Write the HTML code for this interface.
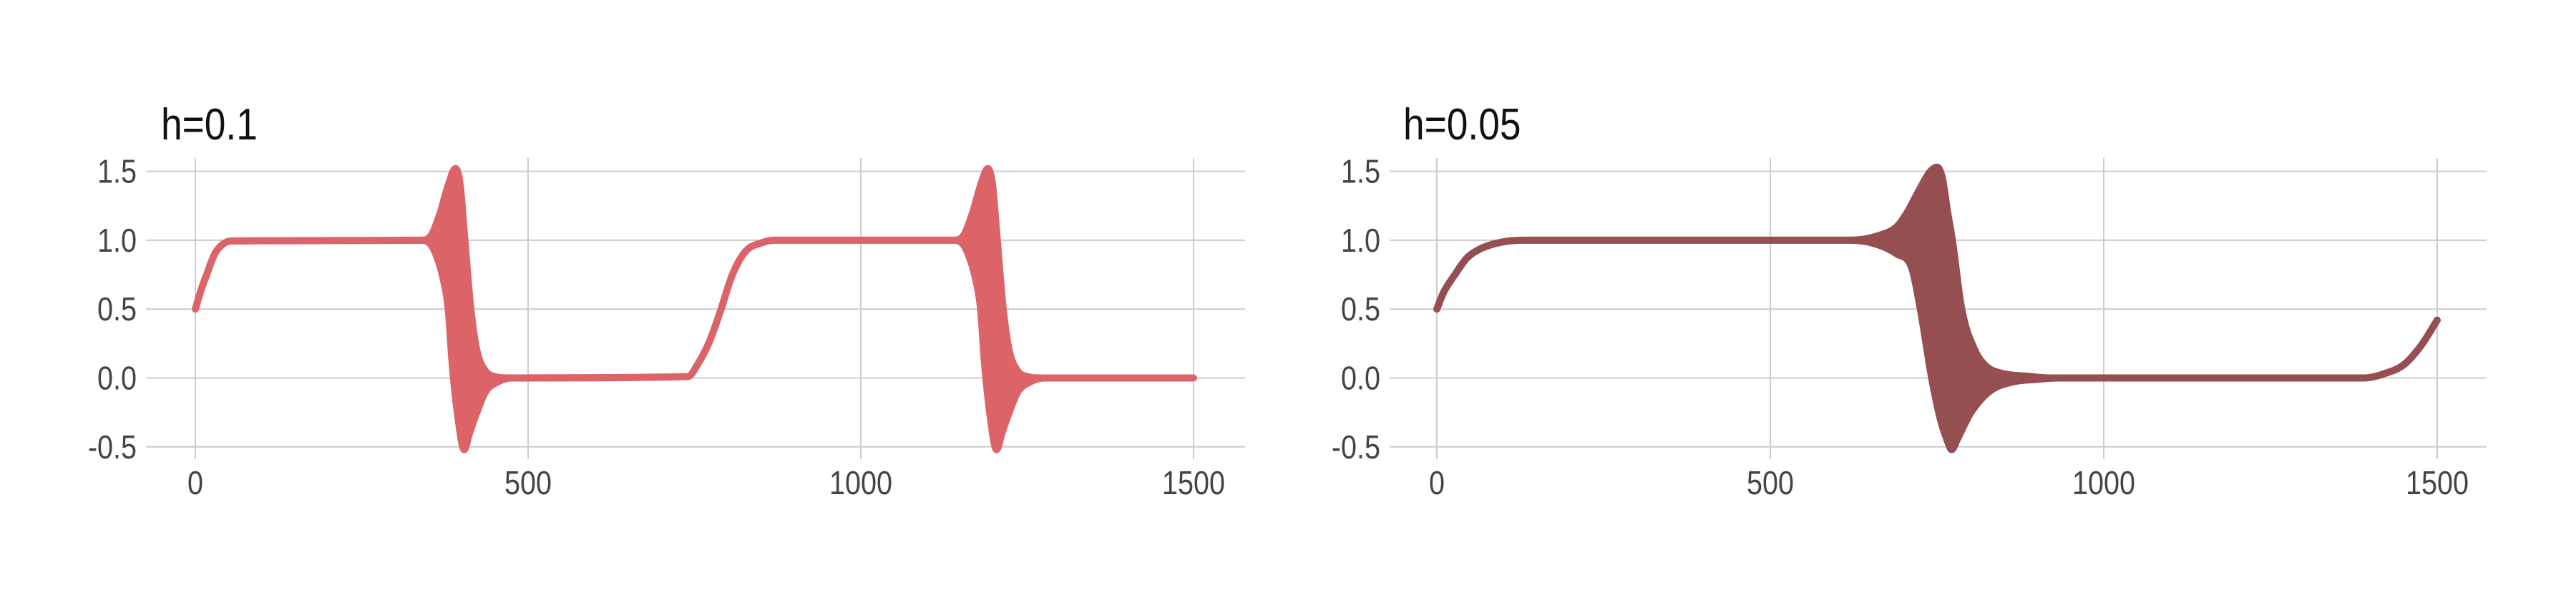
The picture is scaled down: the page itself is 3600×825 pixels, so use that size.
<!DOCTYPE html>
<html><head><meta charset="utf-8"><style>
html,body{margin:0;padding:0;background:#fff;}
svg{display:block;}
text{font-family:"Liberation Sans",sans-serif;}
</style></head><body>
<svg id="chart" width="3600" height="825" viewBox="0 0 3600 825" xmlns="http://www.w3.org/2000/svg"></svg>
<script>
const xTicks = [0, 500, 1000, 1500];
const yTicks = [-0.5, 0, 0.5, 1.0, 1.5];
const yTickLabels = ["-0.5", "0.0", "0.5", "1.0", "1.5"];
const titles = ["h=0.1", "h=0.05"];

const leftUpperX = [0,8,17,29,41,55,340,355,368,380,391,398,405,414,423,436,450,470,740,755,773,790,807,827,850,870,1140,1155,1168,1180,1191,1198,1205,1214,1223,1236,1250,1270,1500];
const leftUpperY = [0.5,0.63,0.75,0.9,0.97,0.995,1.0,1.04,1.2,1.4,1.52,1.4,1.0,0.5,0.2,0.05,0.01,0,0.01,0.1,0.27,0.5,0.75,0.92,0.98,1.0,1.0,1.04,1.2,1.4,1.52,1.4,1.0,0.5,0.2,0.05,0.01,0,0];
const leftLowerX = [0,8,17,29,41,55,340,355,365,371,380,386,395,404,412,423,436,454,475,740,755,773,790,807,827,850,870,1140,1155,1165,1171,1180,1186,1195,1204,1212,1223,1236,1254,1275,1500];
const leftLowerY = [0.5,0.63,0.75,0.9,0.97,0.995,1.0,0.96,0.85,0.75,0.5,0.1,-0.3,-0.52,-0.4,-0.25,-0.1,-0.03,0,0.01,0.1,0.27,0.5,0.75,0.92,0.98,1.0,1.0,0.96,0.85,0.75,0.5,0.1,-0.3,-0.52,-0.4,-0.25,-0.1,-0.03,0,0];

const rightUpperX = [0,10,27,45,62,96,130,620,660,690,705,725,740,750,758,766,773,787,807,825,842,890,920,1390,1420,1451,1478,1500];
const rightUpperY = [0.5,0.62,0.75,0.87,0.93,0.985,1.0,1.0,1.03,1.1,1.2,1.38,1.5,1.53,1.45,1.2,1.0,0.5,0.2,0.08,0.04,0.01,0,0,0.03,0.1,0.25,0.42];
const rightLowerX = [0,10,27,45,62,96,130,620,660,690,712,725,742,755,765,772,780,790,801,828,862,900,930,1390,1420,1451,1478,1500];
const rightLowerY = [0.5,0.62,0.75,0.87,0.93,0.985,1.0,1.0,0.97,0.9,0.8,0.5,0,-0.3,-0.45,-0.52,-0.45,-0.35,-0.25,-0.1,-0.03,-0.01,0,0,0.03,0.1,0.25,0.42];

const NS = "http://www.w3.org/2000/svg";
const svg = document.getElementById("chart");
function mk(tag, attrs, parent){const e=document.createElementNS(NS,tag);for(const k in attrs)e.setAttribute(k,attrs[k]);parent.appendChild(e);return e;}
function yScale(v){return 528.5 - 192.6*v;}

// monotone cubic path through points (px coords), returns segment commands (no leading M)
function monoSegs(P){
  const n=P.length, d=[], m=new Array(n);
  for(let i=0;i<n-1;i++) d.push((P[i+1][1]-P[i][1])/(P[i+1][0]-P[i][0]||1e-6));
  m[0]=d[0]; m[n-1]=d[n-2];
  for(let i=1;i<n-1;i++){ m[i]=(d[i-1]*d[i]<=0)?0:(d[i-1]+d[i])/2; }
  for(let i=0;i<n-1;i++){
    if(d[i]===0){m[i]=0;m[i+1]=0;continue;}
    const a=m[i]/d[i], b=m[i+1]/d[i], s=a*a+b*b;
    if(s>9){const t=3/Math.sqrt(s);m[i]=t*a*d[i];m[i+1]=t*b*d[i];}
  }
  let s="";
  for(let i=0;i<n-1;i++){
    const h=(P[i+1][0]-P[i][0])/3;
    s+="C"+(P[i][0]+h).toFixed(1)+","+(P[i][1]+m[i]*h).toFixed(1)+" "+(P[i+1][0]-h).toFixed(1)+","+(P[i+1][1]-m[i+1]*h).toFixed(1)+" "+P[i+1][0].toFixed(1)+","+P[i+1][1].toFixed(1);
  }
  return s;
}
function condensedText(parent, x, y, str, size, fill, anchor){
  const g = mk("g", {transform:"translate("+x+","+y+") scale(0.86,1)"}, parent);
  const t = mk("text", {x:0, y:0, "font-size":size, fill:fill, "text-anchor":anchor}, g);
  t.textContent = str;
  return t;
}

const panels = [
  {x0:273, k:0.93, gx0:204, gx1:1740, tx:225, color:"#dc6468", ux:leftUpperX, uy:leftUpperY, lx:leftLowerX, ly:leftLowerY, name:"left"},
  {x0:2008, k:0.932, gx0:1942, gx1:3475, tx:1961, color:"#964f51", ux:rightUpperX, uy:rightUpperY, lx:rightLowerX, ly:rightLowerY, name:"right"}
];

panels.forEach((p, i) => {
  const xScale = v => p.x0 + p.k*v;
  const g = mk("g", {}, svg);
  
  
  yTicks.forEach((t, j) => {
    const l = mk("line", {x1:p.gx0, x2:p.gx1, y1:yScale(t), y2:yScale(t), stroke:"#cccccc", "stroke-width":2}, g);
    
    
    const tx = condensedText(g, p.gx0-13, yScale(t)+16, yTickLabels[j], 46, "#444", "end");
    
    
  });
  xTicks.forEach(t => {
    const l = mk("line", {x1:xScale(t), x2:xScale(t), y1:221, y2:642, stroke:"#cccccc", "stroke-width":2}, g);
    
    
    const tx = condensedText(g, xScale(t), 691, String(t), 46, "#444", "middle");
    
    
  });
  const title = condensedText(g, p.tx, 195, titles[i], 62, "#111", "start");
  
  
  const U = p.ux.map((x,j)=>[xScale(x), yScale(p.uy[j])]);
  const L = p.lx.map((x,j)=>[xScale(x), yScale(p.ly[j])]).reverse();
  let d = "M"+U[0][0].toFixed(1)+","+U[0][1].toFixed(1)+monoSegs(U);
  d += "L"+L[0][0].toFixed(1)+","+L[0][1].toFixed(1);
  // lower reversed goes right-to-left: flip for monotone computation
  const Lf = L.map(q=>[-q[0], q[1]]);
  d += monoSegs(Lf).replace(/(-?[\d.]+),(-?[\d.]+)/g, (m0,a,b)=>(-parseFloat(a)).toFixed(1)+","+b);
  d += "Z";
  const band = mk("path", {d:d, fill:p.color, stroke:p.color, "stroke-width":10, "stroke-linejoin":"round"}, g);
  
  
});
</script>
</body></html>
